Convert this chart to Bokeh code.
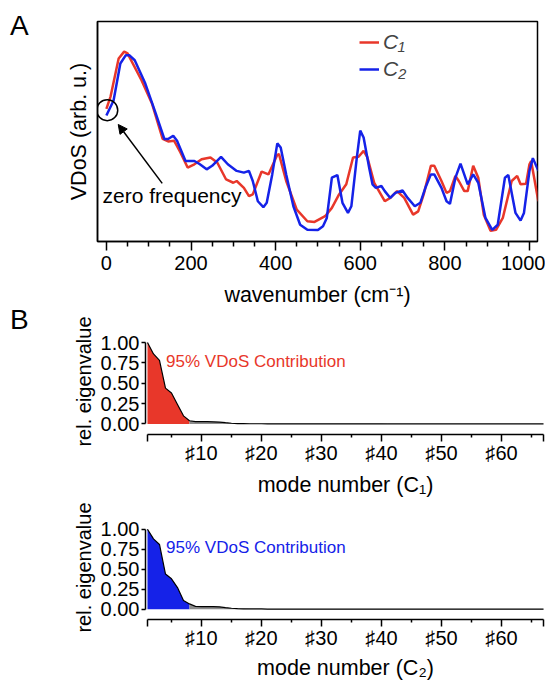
from bokeh.plotting import figure
from bokeh.models import (FixedTicker, NumeralTickFormatter, CustomJSTickFormatter,
                          Legend, LegendItem, Label, Arrow, NormalHead, Div)
from bokeh.embed import file_html
from bokeh.resources import INLINE

FONT = "Liberation Sans"
RED = "#e8372a"
BLUE = "#1522e8"
GRAY = "#8c8c8c"

# ---------------- Panel A data (wavenumber cm^-1, VDoS arb. u.) ----------------
wn_c1 = [0, 10, 29, 42, 50, 83, 108, 133, 146, 160, 175, 192, 208, 225, 246, 262, 283, 300, 308,
         325, 337, 346, 367, 383, 404, 408, 425, 450, 475, 492, 517, 533, 550, 567, 583, 596, 608,
         617, 633, 658, 671, 687, 704, 725, 737, 750, 767, 775, 792, 804, 812, 825, 833, 846, 854,
         867, 879, 892, 908, 921, 937, 958, 971, 979, 992, 1000, 1004, 1021]
vdos_c1 = [60.3, 66.0, 83.2, 86.3, 85.5, 73.3, 62.6, 46.6, 45.5, 45.8, 40.5, 33.6, 35.1, 37.4, 38.2,
           35.9, 28.2, 26.7, 27.5, 24.4, 20.6, 21.4, 31.8, 30.5, 39.4, 39.7, 27.5, 14.5, 9.2, 8.9,
           11.5, 15.3, 21.4, 26.0, 38.2, 38.5, 41.2, 38.2, 26.7, 18.3, 19.8, 22.9, 19.8, 12.2, 13.7,
           21.4, 34.4, 34.4, 27.5, 22.1, 22.9, 29.8, 27.5, 22.9, 22.9, 34.4, 29.0, 12.2, 4.9, 5.3,
           10.7, 27.5, 29.8, 26.0, 26.3, 35.1, 36.6, 18.3]

wn_c2 = [0, 17, 33, 46, 54, 67, 92, 117, 137, 146, 158, 167, 187, 208, 221, 237, 250, 271, 287, 308,
         325, 337, 346, 358, 371, 379, 392, 404, 412, 425, 442, 458, 475, 500, 512, 521, 533, 546,
         558, 571, 579, 592, 600, 608, 621, 629, 637, 650, 658, 671, 683, 700, 712, 729, 742, 754,
         767, 775, 792, 804, 812, 825, 837, 854, 867, 879, 896, 912, 925, 942, 950, 967, 979, 987,
         1000, 1008, 1021]
vdos_c2 = [57.3, 64.1, 80.9, 84.7, 84.7, 82.4, 71.8, 58.0, 46.6, 46.6, 48.1, 45.8, 36.6, 36.6, 35.1,
           32.8, 34.4, 38.5, 35.1, 32.1, 31.3, 32.1, 27.5, 18.3, 15.6, 17.6, 30.5, 44.6, 42.7, 30.5,
           16.0, 7.6, 5.3, 5.2, 6.9, 10.7, 29.0, 30.2, 17.6, 13.0, 16.0, 38.2, 50.4, 47.3, 33.6, 26.0,
           24.4, 25.2, 22.9, 19.8, 22.1, 23.2, 19.8, 16.0, 17.6, 24.4, 30.5, 30.5, 24.4, 18.3, 17.1,
           29.0, 35.4, 26.0, 30.5, 26.7, 10.7, 5.3, 7.6, 29.0, 30.2, 13.0, 9.5, 13.0, 32.1, 37.9, 32.1]

wn_major_ticks = [0, 200, 400, 600, 800, 1000]
wn_minor_ticks = [50, 100, 150, 250, 300, 350, 450, 500, 550, 650, 700, 750, 850, 900, 950]

# annotation: zero frequency marker
zf_x, zf_y = 2, 59.7
arrow_tail = (132, 26.4)
zf_text_pos = (-9, 21)

# ---------------- Panel B data (relative eigenvalues per mode) ----------------
modes = list(range(1, 68))
eig_c1 = [1.00, 0.86, 0.78, 0.44, 0.38, 0.24, 0.10, 0.040, 0.030, 0.029,
          0.028, 0.027, 0.024, 0.016, 0.009, 0.005, 0.004, 0.003, 0.003, 0.003,
          0.002, 0.002, 0.002, 0.002, 0.002, 0.002, 0.002, 0.002, 0.002, 0.002,
          0.002, 0.002, 0.002, 0.002, 0.002, 0.002, 0.002, 0.002, 0.002, 0.002,
          0.001, 0.001, 0.001, 0.001, 0.001, 0.001, 0.001, 0.001, 0.001, 0.001,
          0.001, 0.001, 0.001, 0.001, 0.001, 0.001, 0.001, 0.001, 0.001, 0.001,
          0.001, 0.001, 0.001, 0.001, 0.001, 0.001, 0.001]
eig_c2 = [1.00, 0.88, 0.81, 0.44, 0.38, 0.27, 0.11, 0.066, 0.035, 0.033,
          0.032, 0.031, 0.029, 0.020, 0.012, 0.008, 0.005, 0.003, 0.003, 0.003,
          0.002, 0.002, 0.002, 0.002, 0.002, 0.002, 0.002, 0.002, 0.002, 0.002,
          0.002, 0.002, 0.002, 0.002, 0.002, 0.002, 0.002, 0.002, 0.002, 0.002,
          0.001, 0.001, 0.001, 0.001, 0.001, 0.001, 0.001, 0.001, 0.001, 0.001,
          0.001, 0.001, 0.001, 0.001, 0.001, 0.001, 0.001, 0.001, 0.001, 0.001,
          0.001, 0.001, 0.001, 0.001, 0.001, 0.001, 0.001]
n_contrib = 8  # modes covering 95% VDoS contribution
eig_ticks = [0, 0.25, 0.5, 0.75, 1.0]
mode_major = [1, 10, 20, 30, 40, 50, 60, 67]
mode_minor = [5, 15, 25, 35, 45, 55, 65]


def style_axis(ax, size="20px", label_size="21.5px"):
    ax.axis_line_width = 1.5
    ax.axis_line_color = "black"
    ax.major_tick_line_width = 1.5
    ax.minor_tick_line_width = 1.5
    ax.major_tick_line_color = "black"
    ax.minor_tick_line_color = "black"
    ax.major_tick_in = 0
    ax.minor_tick_in = 0
    ax.major_label_text_font = FONT
    ax.major_label_text_font_size = size
    ax.major_label_text_color = "black"
    ax.axis_label_text_font = FONT
    ax.axis_label_text_font_size = label_size
    ax.axis_label_text_font_style = "normal"
    ax.axis_label_text_color = "black"


# ---------------- Figure A ----------------
pa = figure(width=545, height=312, x_range=(-21, 1019), y_range=(0, 100),
            output_backend="svg", toolbar_location=None, title=None,
            min_border_left=97, min_border_right=8, min_border_top=21, min_border_bottom=71)
pa.outline_line_color = "black"
pa.outline_line_width = 1.5
pa.xgrid.visible = False
pa.ygrid.visible = False
pa.background_fill_color = None
pa.border_fill_color = None

xa = pa.xaxis[0]
style_axis(xa)
xa.ticker = FixedTicker(ticks=wn_major_ticks, minor_ticks=wn_minor_ticks)
xa.major_tick_out = 9
xa.minor_tick_out = 5
xa.major_label_standoff = 5
xa.axis_label_standoff = 10
xa.axis_label = "wavenumber (cm\u207b\u00b9)"

ya = pa.yaxis[0]
style_axis(ya)
ya.ticker = FixedTicker(ticks=[])
ya.major_tick_out = 0
ya.minor_tick_out = 0
ya.axis_label = "VDoS (arb. u.)"
ya.axis_label_standoff = 7

r1 = pa.line(wn_c1, vdos_c1, line_color=RED, line_width=2.5)
r2 = pa.line(wn_c2, vdos_c2, line_color=BLUE, line_width=2.5)

pa.scatter(x=[zf_x], y=[zf_y], marker="circle", size=21, fill_color=None,
           line_color="black", line_width=1.5)
pa.add_layout(Arrow(end=NormalHead(size=9, fill_color="black", line_color="black"),
                    x_start=arrow_tail[0], y_start=arrow_tail[1], x_end=zf_x + 26, y_end=zf_y - 6.5,
                    line_color="black", line_width=1.5))
pa.add_layout(Label(x=zf_text_pos[0], y=zf_text_pos[1], text="zero frequency",
                    text_font=FONT, text_font_size="21px", text_baseline="middle",
                    text_color="black"))

legend = Legend(items=[LegendItem(label="C\u2081", renderers=[r1]),
                       LegendItem(label="C\u2082", renderers=[r2])],
                location=(262, 160), orientation="vertical")
legend.label_text_font = FONT
legend.label_text_font_size = "21px"
legend.label_text_font_style = "italic"
legend.glyph_width = 20
legend.glyph_height = 20
legend.label_standoff = 4
legend.spacing = 3
legend.padding = 0
legend.margin = 0
legend.border_line_color = None
legend.background_fill_alpha = 0
pa.add_layout(legend)


# ---------------- Figures B ----------------
def make_b(vals, fill_color, sub, height, mbt, mbb, als):
    p = figure(width=545, height=height, x_range=(0.67, 67.33), y_range=(-0.129, 1.172),
               output_backend="svg", toolbar_location=None, title=None,
               min_border_left=145, min_border_right=0, min_border_top=mbt,
               min_border_bottom=mbb)
    p.outline_line_color = None
    p.xgrid.visible = False
    p.ygrid.visible = False
    p.background_fill_color = None
    p.border_fill_color = None

    xb = p.xaxis[0]
    style_axis(xb)
    xb.ticker = FixedTicker(ticks=mode_major, minor_ticks=mode_minor)
    xb.formatter = CustomJSTickFormatter(
        code="return (tick == 1 || tick == 67) ? '' : '\u266f' + tick.toFixed(0);")
    xb.bounds = (1, 67)
    xb.major_tick_out = 7
    xb.minor_tick_out = 3
    xb.major_label_standoff = 0
    xb.axis_label_standoff = als
    xb.axis_label = "mode number (C" + sub + ")"

    yb = p.yaxis[0]
    style_axis(yb, label_size="20px")
    yb.ticker = FixedTicker(ticks=eig_ticks)
    yb.formatter = NumeralTickFormatter(format="0.00")
    yb.bounds = (0, 1)
    yb.major_tick_out = 4
    yb.minor_tick_out = 0
    yb.major_label_standoff = 2
    yb.axis_label_standoff = 3
    yb.axis_label = "rel. eigenvalue"

    p.varea(x=modes[:n_contrib], y1=[0] * n_contrib, y2=vals[:n_contrib], fill_color=fill_color)
    rest = len(modes) - n_contrib + 1
    p.varea(x=modes[n_contrib - 1:], y1=[0] * rest, y2=vals[n_contrib - 1:], fill_color=GRAY)
    p.line(modes, vals, line_color="black", line_width=1.2)

    p.add_layout(Label(x=4.1, y=0.77, text="95% VDoS Contribution", text_font=FONT,
                       text_font_size="17px", text_baseline="middle", text_color=fill_color))
    return p


pb1 = make_b(eig_c1, RED, "\u2081", 187, 16, 60, 6)
pb2 = make_b(eig_c2, BLUE, "\u2082", 183, 16, 56, 4)


# ---------------- Panel letters ----------------
def letter_div(text, left, top):
    return Div(text=text, width=30, height=34,
               styles={"position": "absolute", "left": f"{left}px", "top": f"{top}px",
                       "font-family": FONT, "font-size": "28px", "line-height": "1",
                       "color": "black", "margin": "0", "padding": "0"})


div_a = letter_div("A", 10, 12)
div_b = letter_div("B", 10, 306)

open("out.html", "w").write(file_html([pa, pb1, pb2, div_a, div_b], INLINE))
